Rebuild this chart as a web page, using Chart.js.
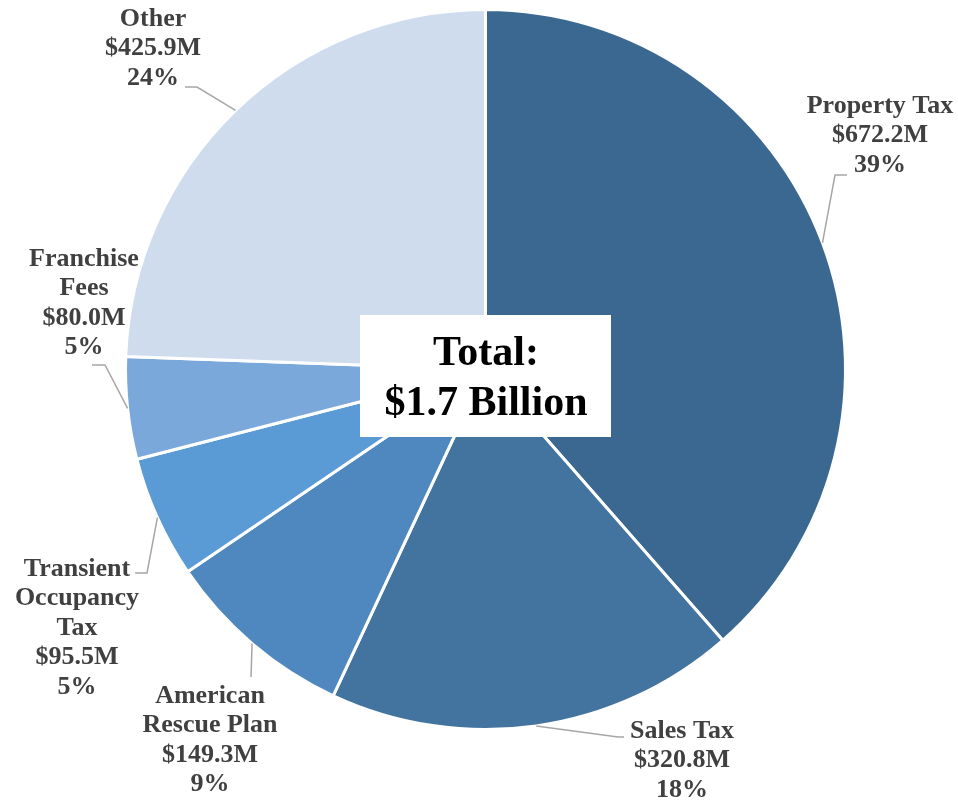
<!DOCTYPE html>
<html>
<head>
<meta charset="utf-8">
<title>General Fund Revenues</title>
<script src="https://cdn.jsdelivr.net/npm/chart.js@4/dist/chart.umd.min.js"></script>
<style>
  body { margin: 0; background: #fff; }
  #wrap { width: 958px; height: 801px; }
</style>
</head>
<body>
<div id="wrap"><canvas id="revenuePie" width="958" height="801"></canvas></div>
<script>
// revenue sources, millions of dollars
var categories = ["Property Tax", "Sales Tax", "American Rescue Plan", "Transient Occupancy Tax", "Franchise Fees", "Other"];
var labelLines = [["Property Tax"], ["Sales Tax"], ["American", "Rescue Plan"], ["Transient", "Occupancy", "Tax"], ["Franchise", "Fees"], ["Other"]];
var revenues = [672.2, 320.8, 149.3, 95.5, 80.0, 425.9];
var sliceColors = ["#3a6891", "#43739f", "#4e88be", "#5a9bd5", "#7ba8da", "#cfdcee"];

// where excel put the callouts: text centre x, first line y, elbow of the leader, end of leader
var callouts = [
  { x: 880, y: 106, knee: [835, 175], end: [847, 175] },
  { x: 682, y: 731, knee: [618, 737], end: [624, 737] },
  { x: 210, y: 696, knee: [251, 677], end: [251, 677] },
  { x: 77,  y: 569, knee: [147, 573], end: [135, 573] },
  { x: 84,  y: 259, knee: [105, 365], end: [92, 365] },
  { x: 153, y: 19,  knee: [197, 87],  end: [185, 87] }
];

var total = revenues.reduce(function(a, b) { return a + b; }, 0);

var calloutPlugin = {
  id: 'callouts',
  afterDraw: function(chart) {
    var ctx = chart.ctx;
    var arcs = chart.getDatasetMeta(0).data;
    ctx.save();

    // leader lines
    ctx.strokeStyle = "#a6a6a6";
    ctx.lineWidth = 1.5;
    for (var i = 0; i < arcs.length; i++) {
      var a = arcs[i];
      var mid = (a.startAngle + a.endAngle) / 2;
      var sx = a.x + Math.cos(mid) * a.outerRadius;
      var sy = a.y + Math.sin(mid) * a.outerRadius;
      ctx.beginPath();
      ctx.moveTo(sx, sy);
      ctx.lineTo(callouts[i].knee[0], callouts[i].knee[1]);
      ctx.lineTo(callouts[i].end[0], callouts[i].end[1]);
      ctx.stroke();
    }

    // label text
    ctx.fillStyle = "#404040";
    ctx.font = "bold 26px 'Liberation Serif', 'Times New Roman', serif";
    ctx.textAlign = "center";
    ctx.textBaseline = "middle";
    for (var j = 0; j < revenues.length; j++) {
      var lines = labelLines[j].slice();
      lines.push("$" + revenues[j].toFixed(1) + "M");
      lines.push(Math.round(revenues[j] / total * 100) + "%");
      for (var k = 0; k < lines.length; k++) {
        ctx.fillText(lines[k], callouts[j].x, callouts[j].y + k * 29.5);
      }
    }

    // total box in the middle
    ctx.fillStyle = "#ffffff";
    ctx.fillRect(360, 315, 251, 122);
    ctx.fillStyle = "#000000";
    ctx.font = "bold 42px 'Liberation Serif', 'Times New Roman', serif";
    ctx.fillText("Total:", 486, 354);
    ctx.fillText("$" + (total / 1000).toFixed(1) + " Billion", 486, 404);
    ctx.restore();
  }
};

var ctx = document.getElementById("revenuePie");
var pie = new Chart(ctx, {
  type: 'pie',
  data: {
    labels: categories,
    datasets: [{
      data: revenues,
      backgroundColor: sliceColors,
      borderColor: "#ffffff",
      borderWidth: 3
    }]
  },
  options: {
    responsive: false,
    animation: false,
    layout: { padding: { left: 124, right: 111, top: 8, bottom: 70 } },
    plugins: {
      legend: { display: false },
      tooltip: { enabled: false }
    }
  },
  plugins: [calloutPlugin]
});
</script>
</body>
</html>
